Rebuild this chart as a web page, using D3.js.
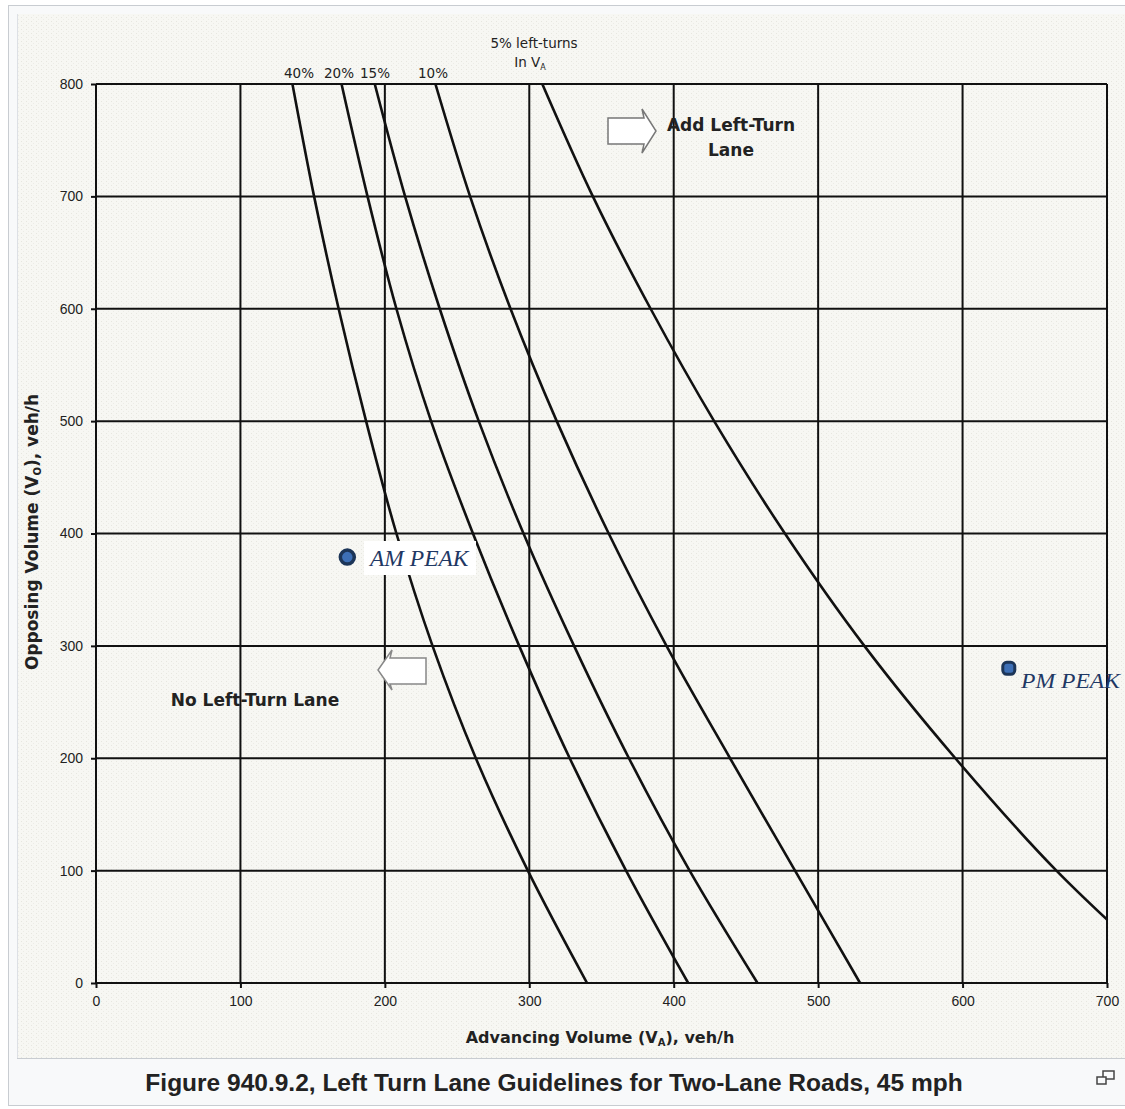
<!DOCTYPE html>
<html><head><meta charset="utf-8">
<script src="https://cdn.jsdelivr.net/npm/d3@7"></script>
<style>
html,body{margin:0;padding:0;background:#fff;}
svg{display:block;font-family:"Liberation Sans",Arial,sans-serif;}
</style></head>
<body>
<script>
// ---- data ----
const opposing = [800, 700, 600, 500, 400, 300, 200, 100, 0];
const curve40 = [136, 151, 168, 187, 208, 233, 263, 299, 340];
const curve20 = [170, 188, 208, 232, 261, 293, 328, 367, 410];
const curve15 = [193, 214, 238, 265, 296, 331, 369, 411, 458];
const curve10 = [235, 259, 287, 319, 355, 395, 439, 484, 529];
const curve5  = [309, 344, 384, 428, 477, 532, 595, 665, 748];
const curveNames = ["40%", "20%", "15%", "10%", "5%"];
const xTicks = [0, 100, 200, 300, 400, 500, 600, 700];
const yTicks = [0, 100, 200, 300, 400, 500, 600, 700, 800];
const peakNames = ["AM PEAK", "PM PEAK"];
const peakAdvancing = [174, 632];
const peakOpposing = [379, 280];

const W = 1125, H = 1109;
const SERIF = "'Liberation Serif','Times New Roman',serif";
const DV = "'DejaVu Sans',Verdana,sans-serif";
const svg = d3.select("body").append("svg").attr("width", W).attr("height", H);
const defs = svg.append("defs");
const pat = defs.append("pattern").attr("id","stip").attr("width",5).attr("height",4).attr("patternUnits","userSpaceOnUse");
pat.append("rect").attr("width",5).attr("height",4).attr("fill","#f7f7f3");
pat.append("rect").attr("x",1).attr("y",1).attr("width",1).attr("height",1).attr("fill","#e6e6df");
pat.append("rect").attr("x",3).attr("y",3).attr("width",1).attr("height",1).attr("fill","#ecece6");

// frame
svg.append("rect").attr("x",8.5).attr("y",5.5).attr("width",1125).attr("height",1100).attr("fill","#f8f9fa").attr("stroke","#c8ccd1");
svg.append("rect").attr("x",17).attr("y",14).attr("width",1110).attr("height",1044).attr("fill","url(#stip)");
svg.append("line").attr("x1",17).attr("x2",1125).attr("y1",1058.5).attr("y2",1058.5).attr("stroke","#c8ccd1");
svg.append("line").attr("x1",17.5).attr("x2",17.5).attr("y1",14).attr("y2",1058).attr("stroke","#dde0e5");

const x = d3.scaleLinear().domain([0,700]).range([96,1107]);
const y = d3.scaleLinear().domain([0,800]).range([983,84]);

const g = svg.append("g");
// grid
g.selectAll(".vg").data(xTicks).join("line")
  .attr("x1",d=>x(d)).attr("x2",d=>x(d)).attr("y1",y(800)).attr("y2",y(0))
  .attr("stroke","#111").attr("stroke-width",2);
g.selectAll(".hg").data(yTicks).join("line")
  .attr("y1",d=>y(d)).attr("y2",d=>y(d)).attr("x1",x(0)).attr("x2",x(700))
  .attr("stroke","#111").attr("stroke-width",2);

// axes
const xa = g.append("g").attr("transform",`translate(0,${y(0)})`)
  .call(d3.axisBottom(x).tickValues(xTicks).tickSize(5).tickPadding(8));
const ya = g.append("g").attr("transform",`translate(${x(0)},0)`)
  .call(d3.axisLeft(y).tickValues(yTicks).tickSize(5).tickPadding(8));
[xa,ya].forEach(a=>{
  a.select(".domain").remove();
  a.selectAll(".tick line").attr("stroke","#111").attr("stroke-width",2);
  a.selectAll(".tick text").style("font-family","'Liberation Sans',Arial,sans-serif")
   .style("font-size","14px").attr("fill","#222");
});

// curves
defs.append("clipPath").attr("id","plotclip").append("rect")
  .attr("x",x(0)).attr("y",y(800)).attr("width",x(700)-x(0)).attr("height",y(0)-y(800));
const series = [curve40, curve20, curve15, curve10, curve5];
const line = d3.line().x(d=>x(d[0])).y(d=>y(d[1])).curve(d3.curveCatmullRom.alpha(0.5));
g.append("g").attr("clip-path","url(#plotclip)").selectAll("path").data(series).join("path")
  .attr("d", s => line(s.map((v,i)=>[v, opposing[i]])))
  .attr("fill","none").attr("stroke","#111").attr("stroke-width",2.6);

// curve labels
const lab = svg.append("g").style("font-family",DV).style("font-size","13.5px").attr("fill","#222").attr("text-anchor","middle");
const labX = [299, 339, 375, 433];
curveNames.slice(0,4).forEach((n,i)=>lab.append("text").attr("x",labX[i]).attr("y",78).text(n));
lab.append("text").attr("x",534).attr("y",48).text("5% left-turns");
const t2 = lab.append("text").attr("x",530).attr("y",67);
t2.append("tspan").text("In V");
t2.append("tspan").style("font-size","8px").attr("dy",3).text("A");

// region labels
const bold17 = t => t.style("font-family",DV).style("font-size","17px").style("font-weight","bold").attr("fill","#222").attr("text-anchor","middle");
svg.append("text").attr("x",731).attr("y",131).call(bold17).text("Add Left-Turn");
svg.append("text").attr("x",731).attr("y",156).call(bold17).text("Lane");
svg.append("text").attr("x",255).attr("y",706).call(bold17).text("No Left-Turn Lane");

// arrows
svg.append("path").attr("d","M608,118 L644,118 L642,109 L656,131 L642,153 L644,144 L608,144 Z")
  .attr("fill","#fff").attr("stroke","#777").attr("stroke-width",1.5);
svg.append("path").attr("d","M426,658 L390,658 L392,650 L378,670 L392,690 L390,684 L426,684 Z")
  .attr("fill","#fff").attr("stroke","#888").attr("stroke-width",1.5);

// axis titles
const xt = svg.append("text").attr("x",600).attr("y",1043).attr("text-anchor","middle").style("font-family",DV).style("font-size","16px").style("font-weight","bold").attr("fill","#222");
xt.append("tspan").text("Advancing Volume (V");
xt.append("tspan").style("font-size","10px").attr("dy",3).text("A");
xt.append("tspan").attr("dy",-3).text("), veh/h");
const yt = svg.append("text").attr("transform","translate(38,532) rotate(-90)").attr("text-anchor","middle").style("font-family",DV).style("font-size","17px").style("font-weight","bold").attr("fill","#222");
yt.append("tspan").text("Opposing Volume (V");
yt.append("tspan").style("font-size","10px").attr("dy",3).text("O");
yt.append("tspan").attr("dy",-3).text("), veh/h");

// peaks
svg.append("rect").attr("x",364).attr("y",541).attr("width",112).attr("height",34).attr("fill","#fff");
const pk = svg.append("g");
pk.append("circle").attr("cx",x(peakAdvancing[0])).attr("cy",y(peakOpposing[0])).attr("r",7)
  .attr("fill","#3d6fb6").attr("stroke","#1c3558").attr("stroke-width",3.5);
pk.append("rect").attr("x",x(peakAdvancing[1])-6).attr("y",y(peakOpposing[1])-6).attr("width",12).attr("height",12).attr("rx",4)
  .attr("fill","#3d6fb6").attr("stroke","#1c3558").attr("stroke-width",3);
pk.append("text").attr("x",370).attr("y",566).style("font-family",SERIF)
  .style("font-style","italic").style("font-size","23.5px").attr("fill","#1f3864").text(peakNames[0]);
pk.append("text").attr("x",1021).attr("y",688).style("font-family",SERIF)
  .style("font-style","italic").style("font-size","21px").attr("fill","#1f3864").attr("textLength",99).attr("lengthAdjust","spacingAndGlyphs").text(peakNames[1]);

// caption
svg.append("text").attr("x",554).attr("y",1091).attr("text-anchor","middle").style("font-size","24.5px").style("font-weight","bold").attr("fill","#222")
  .text("Figure 940.9.2, Left Turn Lane Guidelines for Two-Lane Roads, 45 mph");
const ic = svg.append("g").attr("fill","none").attr("stroke","#444").attr("stroke-width",1.5);
ic.append("rect").attr("x",1103).attr("y",1071).attr("width",11).attr("height",8);
ic.append("rect").attr("x",1097).attr("y",1077).attr("width",9).attr("height",7).attr("fill","#f8f9fa");
</script>
</body></html>
